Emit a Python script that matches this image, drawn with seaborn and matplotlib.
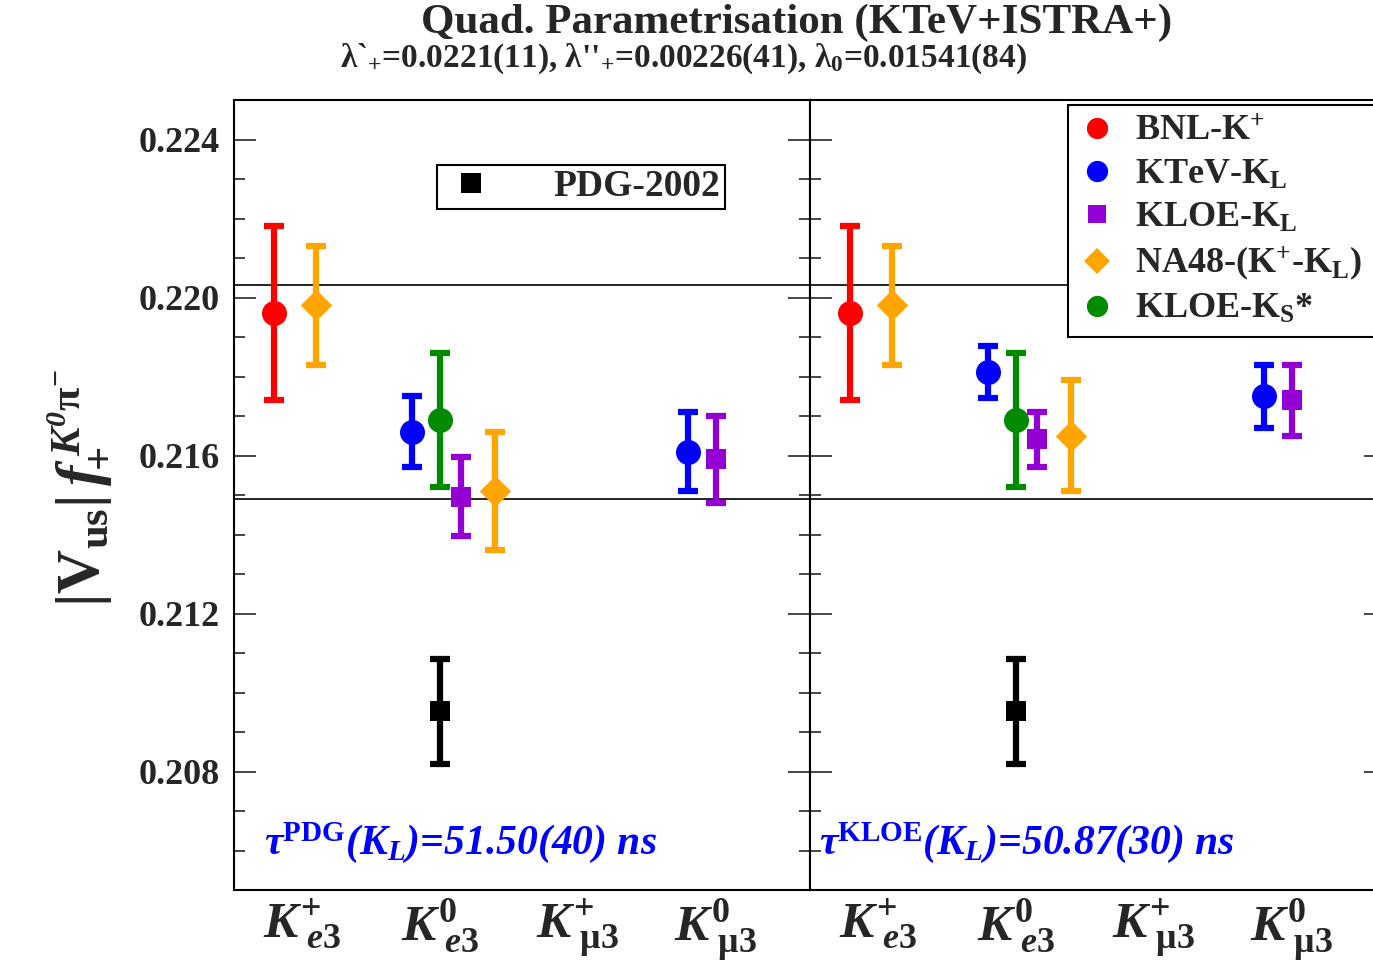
import numpy as np
import pandas as pd
import matplotlib
matplotlib.use("Agg")
import matplotlib.pyplot as plt
import seaborn as sns
from matplotlib.lines import Line2D
from matplotlib.ticker import MultipleLocator

# ---------------- data ----------------
cat_labels = [r"$K^{+}_{\ e3}$", r"$K^{0}_{\ e3}$", r"$K^{+}_{\ \mathtt{\mu 3}}$", r"$K^{0}_{\ \mathtt{\mu 3}}$"]
cat_pos = [1, 2, 3, 4]

series = ["BNL-K$^{+}$", "KTeV-K$_{\\mathbf{L}}$", "KLOE-K$_{\\mathbf{L}}$",
          "NA48-(K$^{+}$-K$_{\\mathbf{L}}$)", "KLOE-K$_{\\mathbf{S}}$*", "PDG-2002"]

# point category index for each series (0-based)
bnl_cat = [0]
ktev_cat = [1, 3]
kloeL_cat = [1, 3]
na48_cat = [0, 1]
kloeS_cat = [1]
pdg_cat = [1]

# left panel: tau(PDG)
bnl_L = [0.21960];            bnl_L_err = [0.00220]
ktev_L = [0.21660, 0.21610];  ktev_L_err = [0.00090, 0.00100]
kloeL_L = [0.21495, 0.21591]; kloeL_L_err = [0.00100, 0.00110]
na48_L = [0.21980, 0.21510];  na48_L_err = [0.00150, 0.00150]
kloeS_L = [0.21690];          kloeS_L_err = [0.00170]
pdg_L = [0.20952];            pdg_L_err = [0.00133]

# right panel: tau(KLOE)
bnl_R = [0.21960];            bnl_R_err = [0.00220]
ktev_R = [0.21812, 0.21750];  ktev_R_err = [0.00066, 0.00080]
kloeL_R = [0.21641, 0.21740]; kloeL_R_err = [0.00070, 0.00090]
na48_R = [0.21980, 0.21650];  na48_R_err = [0.00150, 0.00140]
kloeS_R = [0.21690];          kloeS_R_err = [0.00170]
pdg_R = [0.20952];            pdg_R_err = [0.00133]

band = [0.21490, 0.22032]

# ---------------- styles ----------------
colors = ["#ff0000", "#0000ff", "#9400d3", "#ffa500", "#008b00", "#000000"]
markers = ["o", "o", "s", "D", "o", "s"]
msizes = [18, 18, 15, 16, 18, 15]
# horizontal offsets from category centre (per series, per point)
offsets = {0: [-0.2], 1: [-0.2, -0.2], 2: [0.15, 0.0], 3: [0.1, 0.4], 4: [0.0], 5: [0.0]}

sns.set_style("ticks")
plt.rcParams["font.family"] = ["Liberation Serif", "DejaVu Serif"]
plt.rcParams["font.weight"] = "bold"
plt.rcParams["mathtext.fontset"] = "custom"
plt.rcParams["mathtext.rm"] = "Liberation Serif:bold"
plt.rcParams["mathtext.bf"] = "Liberation Serif:bold"
plt.rcParams["mathtext.it"] = "Liberation Serif:italic:bold"
plt.rcParams["mathtext.sf"] = "Liberation Serif:italic"
plt.rcParams["mathtext.tt"] = "Liberation Serif"

fig = plt.figure(figsize=(13.73, 9.76), dpi=100)
axL = fig.add_axes([234 / 1373, 86 / 976, 576 / 1373, 790 / 976])
axR = fig.add_axes([810 / 1373, 86 / 976, 576 / 1373, 790 / 976])

panels = [
    (axL, [(bnl_L, bnl_L_err, bnl_cat), (ktev_L, ktev_L_err, ktev_cat), (kloeL_L, kloeL_L_err, kloeL_cat),
           (na48_L, na48_L_err, na48_cat), (kloeS_L, kloeS_L_err, kloeS_cat), (pdg_L, pdg_L_err, pdg_cat)]),
    (axR, [(bnl_R, bnl_R_err, bnl_cat), (ktev_R, ktev_R_err, ktev_cat), (kloeL_R, kloeL_R_err, kloeL_cat),
           (na48_R, na48_R_err, na48_cat), (kloeS_R, kloeS_R_err, kloeS_cat), (pdg_R, pdg_R_err, pdg_cat)]),
]

for ax, data in panels:
    for b in band:
        ax.axhline(b, color="black", lw=1.2, zorder=1)
    for i, (vals, errs, cats) in enumerate(data):
        xs = [cat_pos[c] + offsets[i][k] for k, c in enumerate(cats)]
        ax.errorbar(xs, vals, yerr=errs, fmt="none", ecolor=colors[i], elinewidth=4.5,
                    capsize=7.5, capthick=4.5, zorder=3)
        df = pd.DataFrame({"x": xs, "y": vals})
        sns.scatterplot(data=df, x="x", y="y", ax=ax, marker=markers[i], color=colors[i],
                        s=msizes[i] ** 2, linewidth=0, zorder=4, legend=False)
    ax.set_xlim(0.507, 4.681)
    ax.set_ylim(0.205, 0.225)
    ax.set_xlabel("")
    ax.set_ylabel("")
    ax.set_xticks(cat_pos)
    ax.set_xticklabels(cat_labels, fontsize=37)
    ax.tick_params(axis="x", length=0, pad=5)
    ax.yaxis.set_major_locator(MultipleLocator(0.004))
    ax.yaxis.set_minor_locator(MultipleLocator(0.001))
    ax.tick_params(axis="y", which="major", direction="in", length=16, width=1.2, left=True, right=True)
    ax.tick_params(axis="y", which="minor", direction="in", length=8, width=1.2, left=True, right=True)
    for sp in ax.spines.values():
        sp.set_visible(True)
        sp.set_linewidth(1.5)
        sp.set_color("black")

axL.set_yticks([0.208, 0.212, 0.216, 0.220, 0.224])
axL.set_yticklabels(["0.208", "0.212", "0.216", "0.220", "0.224"], fontsize=26, fontweight="bold")
axL.tick_params(axis="y", pad=10)
axR.tick_params(axis="y", labelleft=False)

# y label
fig.text(0.058, 0.500, r"$\mathbf{|V_{us}|}\,\mathsf{f}_{\!\mathtt{+}}^{\;\mathsf{K^{0}}\mathtt{\pi}^{\mathtt{-}}}$",
         rotation=90, fontsize=44, ha="center", va="center")

# tau annotations
axL.text(0.052, 0.045, r"τ$^{\mathbf{PDG}}$(K$_{L}$)=51.50(40) ns", transform=axL.transAxes,
         fontsize=30, color="#0000ff", fontstyle="italic", fontweight="bold", ha="left", va="baseline",
         family=["Liberation Serif", "DejaVu Serif"])
axR.text(0.015, 0.045, r"τ$^{\mathbf{KLOE}}$(K$_{L}$)=50.87(30) ns", transform=axR.transAxes,
         fontsize=30, color="#0000ff", fontstyle="italic", fontweight="bold", ha="left", va="baseline",
         family=["Liberation Serif", "DejaVu Serif"])

# legends
handles = [Line2D([], [], ls="", marker=markers[i], color=colors[i], markersize=msizes[i] * 0.85,
                  markeredgewidth=0) for i in range(5)]
legR = axR.legend(handles, series[:5], loc="upper left", bbox_to_anchor=(0.448, 0.5, 0.6, 0.494),
                  mode="expand",
                  prop={"family": "Liberation Serif", "weight": "bold", "size": 26},
                  frameon=True, fancybox=False, edgecolor="black", framealpha=1,
                  handlelength=1.0, handletextpad=0.55, labelspacing=0.27, borderpad=0.3,
                  borderaxespad=0)
legR.get_frame().set_linewidth(1.5)

hpdg = [Line2D([], [], ls="", marker="s", color="black", markersize=14, markeredgewidth=0)]
legL = axL.legend(hpdg, [series[5]], loc="upper left", bbox_to_anchor=(0.352, 0.918),
                  prop={"family": "Liberation Serif", "weight": "bold", "size": 27},
                  frameon=True, fancybox=False, edgecolor="black", framealpha=1,
                  handlelength=1.6, handletextpad=1.4, borderpad=0.12, borderaxespad=0)
legL.get_frame().set_linewidth(1.5)

# titles
fig.text(0.580, 0.977, "Quad. Parametrisation (KTeV+ISTRA+)", fontsize=31, fontweight="bold",
         ha="center", va="center")
fig.text(0.498, 0.940, r"λ`$_{+}$=0.0221(11), λ''$_{+}$=0.00226(41), λ$_{0}$=0.01541(84)",
         fontsize=24, fontweight="bold", ha="center", va="center")

fig.savefig("out.png", dpi=100)
